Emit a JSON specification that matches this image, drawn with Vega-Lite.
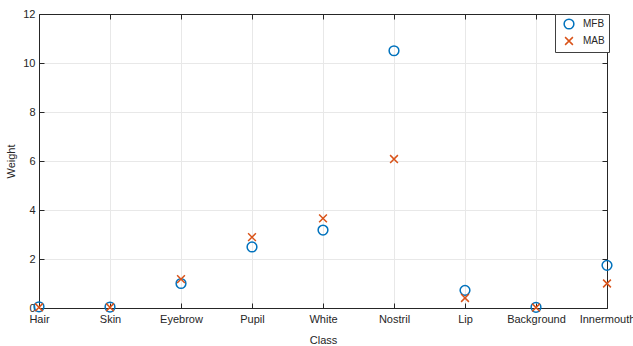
{
  "$schema": "https://vega.github.io/schema/vega-lite/v6.json",
  "width": 568,
  "height": 294,
  "autosize": {"type": "none"},
  "padding": {"left": 39, "top": 14, "right": 26, "bottom": 38},
  "background": "white",
  "config": {
    "view": {"stroke": null},
    "font": "Liberation Sans",
    "axis": {
      "domainColor": "#262626",
      "tickColor": "#262626",
      "labelColor": "#262626",
      "titleColor": "#262626",
      "labelFont": "Liberation Sans",
      "titleFont": "Liberation Sans",
      "labelFontSize": 11,
      "titleFontSize": 11,
      "titleFontWeight": "normal",
      "gridColor": "#e8e8e8",
      "domainWidth": 1,
      "tickWidth": 1
    }
  },
  "data": {
    "values": [
      {"cls": "Hair", "series": "MFB", "w": 0.05},
      {"cls": "Skin", "series": "MFB", "w": 0.04},
      {"cls": "Eyebrow", "series": "MFB", "w": 1.0},
      {"cls": "Pupil", "series": "MFB", "w": 2.49},
      {"cls": "White", "series": "MFB", "w": 3.18},
      {"cls": "Nostril", "series": "MFB", "w": 10.5},
      {"cls": "Lip", "series": "MFB", "w": 0.72},
      {"cls": "Background", "series": "MFB", "w": 0.03},
      {"cls": "Innermouth", "series": "MFB", "w": 1.74},
      {"cls": "Hair", "series": "MAB", "w": 0.03},
      {"cls": "Skin", "series": "MAB", "w": 0.03},
      {"cls": "Eyebrow", "series": "MAB", "w": 1.18},
      {"cls": "Pupil", "series": "MAB", "w": 2.89},
      {"cls": "White", "series": "MAB", "w": 3.66},
      {"cls": "Nostril", "series": "MAB", "w": 6.08},
      {"cls": "Lip", "series": "MAB", "w": 0.41},
      {"cls": "Background", "series": "MAB", "w": 0.02},
      {"cls": "Innermouth", "series": "MAB", "w": 1.0}
    ]
  },
  "layer": [
    {
      "mark": {"type": "point", "filled": false, "strokeWidth": 1.5, "size": 95, "opacity": 1},
      "encoding": {
        "x": {
          "field": "cls", "type": "nominal", "sort": null,
          "scale": {"type": "point", "padding": 0, "domain": ["Hair","Skin","Eyebrow","Pupil","White","Nostril","Lip","Background","Innermouth"]},
          "axis": {"orient": "bottom", "title": "Class", "labelAngle": 0, "grid": true, "tickSize": -5, "labelPadding": 10, "titlePadding": 10, "labelOverlap": false}
        },
        "y": {
          "field": "w", "type": "quantitative",
          "scale": {"domain": [0, 12], "nice": false, "zero": false},
          "axis": {"orient": "left", "title": "Weight", "values": [0,2,4,6,8,10,12], "grid": true, "tickSize": -5, "labelPadding": 9, "titlePadding": 6}
        },
        "color": {
          "field": "series", "type": "nominal",
          "scale": {"domain": ["MFB", "MAB"], "range": ["#0072BD", "#D95319"]},
          "legend": {
            "title": null, "orient": "none", "legendX": 516, "legendY": 0,
            "strokeColor": "#404040", "fillColor": "white", "padding": 4,
            "symbolStrokeWidth": 1.5, "symbolSize": 95, "symbolOffset": 4,
            "labelFontSize": 10, "labelColor": "#262626", "labelOffset": 8, "rowPadding": 2,
            "labelFont": "Liberation Sans"
          }
        },
        "shape": {
          "field": "series", "type": "nominal",
          "scale": {"domain": ["MFB", "MAB"], "range": ["circle", "M-0.8,-0.8L0.8,0.8M-0.8,0.8L0.8,-0.8"]},
          "legend": {
            "title": null, "orient": "none", "legendX": 516, "legendY": 0,
            "strokeColor": "#404040", "fillColor": "white", "padding": 4,
            "symbolStrokeWidth": 1.5, "symbolSize": 95, "symbolOffset": 4,
            "labelFontSize": 10, "labelColor": "#262626", "labelOffset": 8, "rowPadding": 2,
            "labelFont": "Liberation Sans"
          }
        }
      }
    },
    {
      "mark": {"type": "point", "opacity": 0},
      "encoding": {
        "x": {
          "field": "cls", "type": "nominal", "sort": null,
          "axis": {"orient": "top", "title": null, "labels": false, "grid": false, "tickSize": -5}
        },
        "y": {
          "field": "w", "type": "quantitative",
          "axis": {"orient": "right", "title": null, "labels": false, "grid": false, "values": [0,2,4,6,8,10,12], "tickSize": -5}
        }
      }
    }
  ],
  "resolve": {"axis": {"x": "independent", "y": "independent"}}
}
